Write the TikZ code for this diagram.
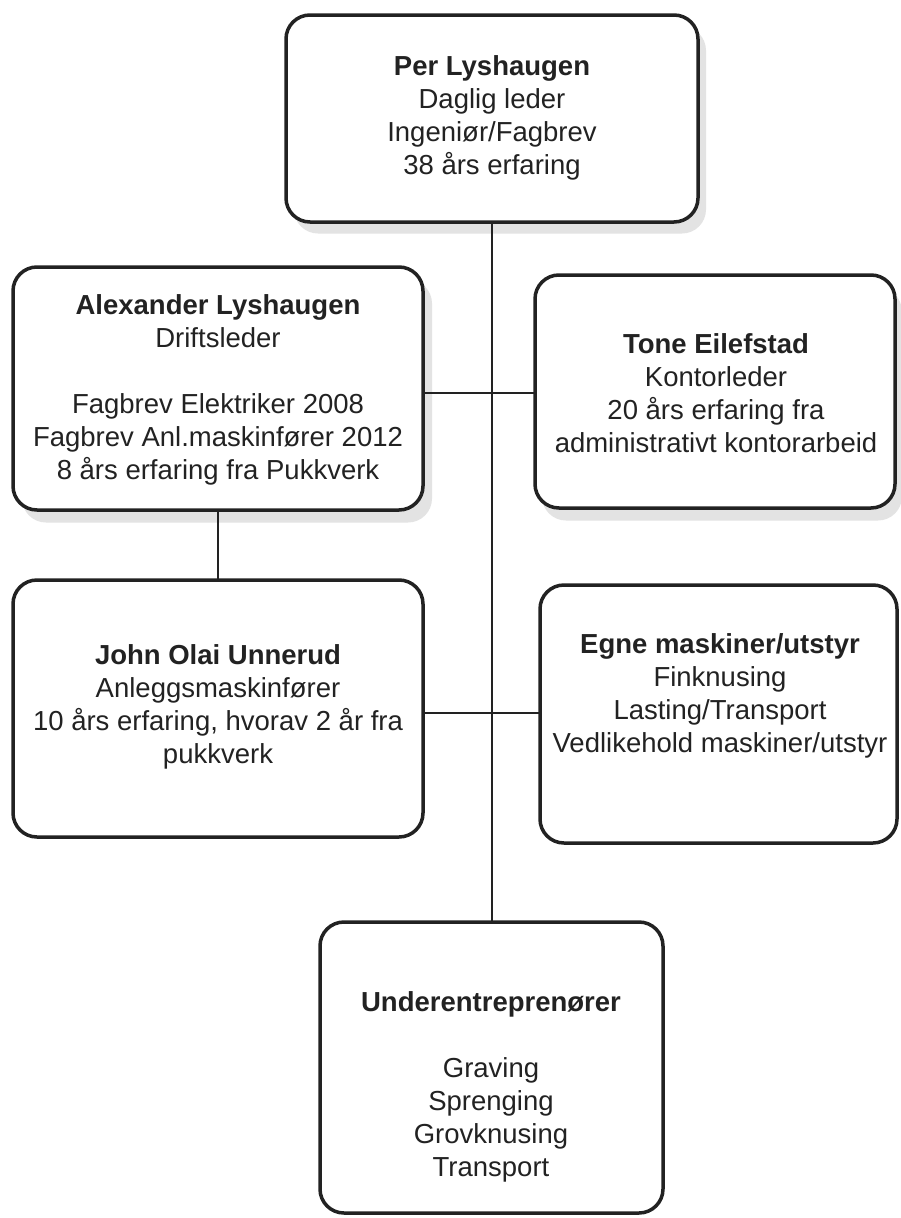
\documentclass[tikz,border=0pt]{standalone}
\usepackage{fontspec}
\setmainfont{Liberation Sans}
\definecolor{ink}{HTML}{222222}
\definecolor{shadegray}{HTML}{E3E3E3}
\begin{document}
\begin{tikzpicture}[x=1pt,y=-1pt,
  box/.style={draw=ink, line width=3.5pt, rounded corners=24pt, fill=white, inner sep=0pt, outer sep=0pt},
  shadebox/.style={fill=shadegray, rounded corners=24pt, draw=none, inner sep=0pt, outer sep=0pt},
  txt/.style={align=center, text=ink, inner sep=0pt, font=\fontsize{27.5}{33}\selectfont},
  conn/.style={draw=ink, line width=2.2pt}]
\useasboundingbox (0,0) rectangle (900,1218);
\fill[white] (0,0) rectangle (900,1218);

% shadows
\node[shadebox, minimum width=412pt, minimum height=207pt] (topsh) at (500,130) {};
\node[shadebox, minimum width=410pt, minimum height=243pt] (alexsh) at (227,401) {};
\node[shadebox, minimum width=360pt, minimum height=233pt] (tonesh) at (722,404) {};

% boxes
\node[box, minimum width=412pt, minimum height=207pt] (top) at (492,118.5) {};
\node[box, minimum width=410pt, minimum height=243pt] (alex) at (218,388.5) {};
\node[box, minimum width=360pt, minimum height=233pt] (tone) at (715,391.5) {};
\node[box, minimum width=410pt, minimum height=257pt] (john) at (218,708.5) {};
\node[box, minimum width=357pt, minimum height=258pt] (egne) at (718.5,714) {};
\node[box, minimum width=343pt, minimum height=291pt] (under) at (491.5,1067.5) {};

% connectors
\coordinate (h1) at (0,393);
\coordinate (h2) at (0,713);
\draw[conn] (top.south) -- (top.south |- under.north);
\draw[conn] (alex.east |- h1) -- (tone.west |- h1);
\draw[conn] (john.east |- h2) -- (egne.west |- h2);
\draw[conn] (alex.south) -- (john.north);

% texts
\node[txt] (toptxt) at (492,118) {\textbf{Per Lyshaugen}\\Daglig leder\\Ingeniør/Fagbrev\\38 års erfaring};
\node[txt] (alextxt) at (218,390) {\textbf{Alexander Lyshaugen}\\Driftsleder\\[33pt]Fagbrev Elektriker 2008\\Fagbrev Anl.maskinfører 2012\\8 års erfaring fra Pukkverk};
\node[txt] (tonetxt) at (716,393) {\textbf{Tone Eilefstad}\\Kontorleder\\20 års erfaring fra\\administrativt kontorarbeid};
\node[txt] (johntxt) at (218,707) {\textbf{John Olai Unnerud}\\Anleggsmaskinfører\\10 års erfaring, hvorav 2 år fra\\pukkverk};
\node[txt] (egnetxt) at (720,696) {\textbf{Egne maskiner/utstyr}\\Finknusing\\Lasting/Transport\\Vedlikehold maskiner/utstyr};
\node[txt] (undertxt) at (491,1087) {\textbf{Underentreprenører}\\[33pt]Graving\\Sprenging\\Grovknusing\\Transport};
\end{tikzpicture}
\end{document}
